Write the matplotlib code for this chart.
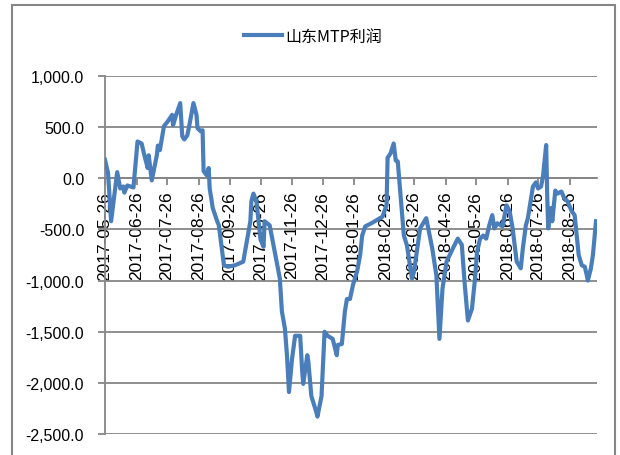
import matplotlib
matplotlib.use('Agg')
import matplotlib.pyplot as plt
import matplotlib.dates as mdates
from matplotlib.patches import Rectangle
from matplotlib.ticker import FuncFormatter
import pandas as pd

plt.rcParams['font.family'] = ['Liberation Sans', 'Noto Sans CJK SC', 'DejaVu Sans']

start = pd.Timestamp('2017-05-26')

# days since 2017-05-26
days = [0, 3, 6, 12, 15, 18, 19, 22, 28, 32, 36, 39, 42, 43, 46, 51, 52, 54, 58,
        62, 66, 67, 70, 74, 76, 78, 81, 83, 87, 90, 91, 94, 96, 97, 100, 102, 103,
        106, 110, 112, 115, 117, 121, 128, 136, 140, 143, 144, 146, 149, 150, 153,
        156, 157, 162, 167, 172, 174, 177, 179, 181, 184, 187, 192, 194, 195, 199,
        200, 203, 208, 209, 213, 216, 219, 224, 228, 229, 233, 236, 238, 241, 244,
        248, 251, 253, 256, 262, 273, 277, 278, 281, 284, 286, 288, 292, 294, 297,
        302, 304, 310, 316, 322, 326, 329, 332, 336, 342, 347, 351, 354, 357, 361,
        364, 366, 369, 372, 375, 378, 381, 383, 386, 391, 395, 398, 401, 405, 409,
        411, 414, 416, 418, 421, 424, 426, 429, 431, 434, 435, 436, 439, 440, 443,
        445, 449, 452, 455, 459, 462, 464, 466, 469, 472, 474, 475, 478, 480, 483]

profit = [180, 50, -420, 60, -100, -80, -140, -70, -90, 360, 340, 215, 100, 225,
          -20, 225, 320, 275, 510, 560, 620, 520, 620, 735, 410, 380, 420, 520,
          735, 620, 490, 460, 470, 70, 30, 100, -100, -290, -410, -460, -690, -850,
          -865, -850, -815, -590, -420, -225, -150, -225, -320, -600, -670, -420,
          -460, -720, -980, -1300, -1470, -1730, -2090, -1765, -1540, -1540, -1890,
          -2010, -1730, -1790, -2130, -2290, -2330, -2130, -1500, -1540, -1570,
          -1730, -1630, -1620, -1300, -1180, -1180, -1040, -910, -750, -560, -470,
          -440, -375, -260, 200, 245, 340, 175, 165, -320, -560, -655, -980, -910,
          -490, -390, -690, -950, -1570, -1080, -815, -690, -590, -650, -1050,
          -1390, -1275, -980, -720, -590, -560, -590, -460, -360, -490, -440, -470,
          -265, -320, -490, -815, -880, -690, -460, -390, -265, -80, -40, -100, -80,
          30, 325, -165, -490, -290, -420, -120, -150, -130, -200, -225, -320, -360,
          -560, -750, -850, -865, -950, -1000, -880, -750, -420]

dates = [start + pd.Timedelta(days=d) for d in days]

grey = '#868686'
fig = plt.figure(figsize=(6.2, 4.56), dpi=100)
ax = fig.add_axes([105 / 620, 1 - 435 / 456, (597 - 105) / 620, (435 - 77) / 456])

line, = ax.plot(dates, profit, color='#4a7ebb', lw=3.0, label='山东MTP利润',
                solid_joinstyle='round', zorder=3)

ax.set_ylim(-2500, 1000)
ax.set_yticks(range(-2500, 1001, 500))
ax.yaxis.set_major_formatter(FuncFormatter(lambda v, p: '{:,.1f}'.format(v)))
ax.set_xlim(start, start + pd.Timedelta(days=484))
ax.xaxis.set_major_locator(mdates.MonthLocator(bymonthday=26))
ax.xaxis.set_major_formatter(mdates.DateFormatter('%Y-%m-%d'))

ax.grid(axis='y', color=grey, lw=1.3)
for s in ['top', 'right']:
    ax.spines[s].set_visible(False)
ax.spines['bottom'].set_position(('data', 0))
ax.spines['bottom'].set_color(grey)
ax.spines['left'].set_color(grey)
ax.spines['left'].set_linewidth(1.3)
ax.spines['bottom'].set_linewidth(1.3)

ax.tick_params(axis='x', direction='out', length=5, width=1.3, color=grey,
               labelrotation=90, labelsize=12.5, pad=4)
ax.tick_params(axis='y', direction='out', length=5, width=1.3, color=grey,
               labelsize=11.5, pad=10)
for t in ax.get_xticklabels():
    t.set_verticalalignment('top')

fig.legend(handles=[line], loc='center', bbox_to_anchor=(0.505, 0.918),
           frameon=False, handlelength=2.4, handletextpad=0.2,
           prop={'family': ['Noto Sans CJK SC', 'DejaVu Sans'], 'size': 11.5})

fig.patches.append(Rectangle((12 / 620, -0.1), (615 - 12) / 620, 1.1 - 6 / 456,
                             transform=fig.transFigure, fill=False,
                             edgecolor=grey, lw=1.5))

fig.savefig('out.png', dpi=100)
